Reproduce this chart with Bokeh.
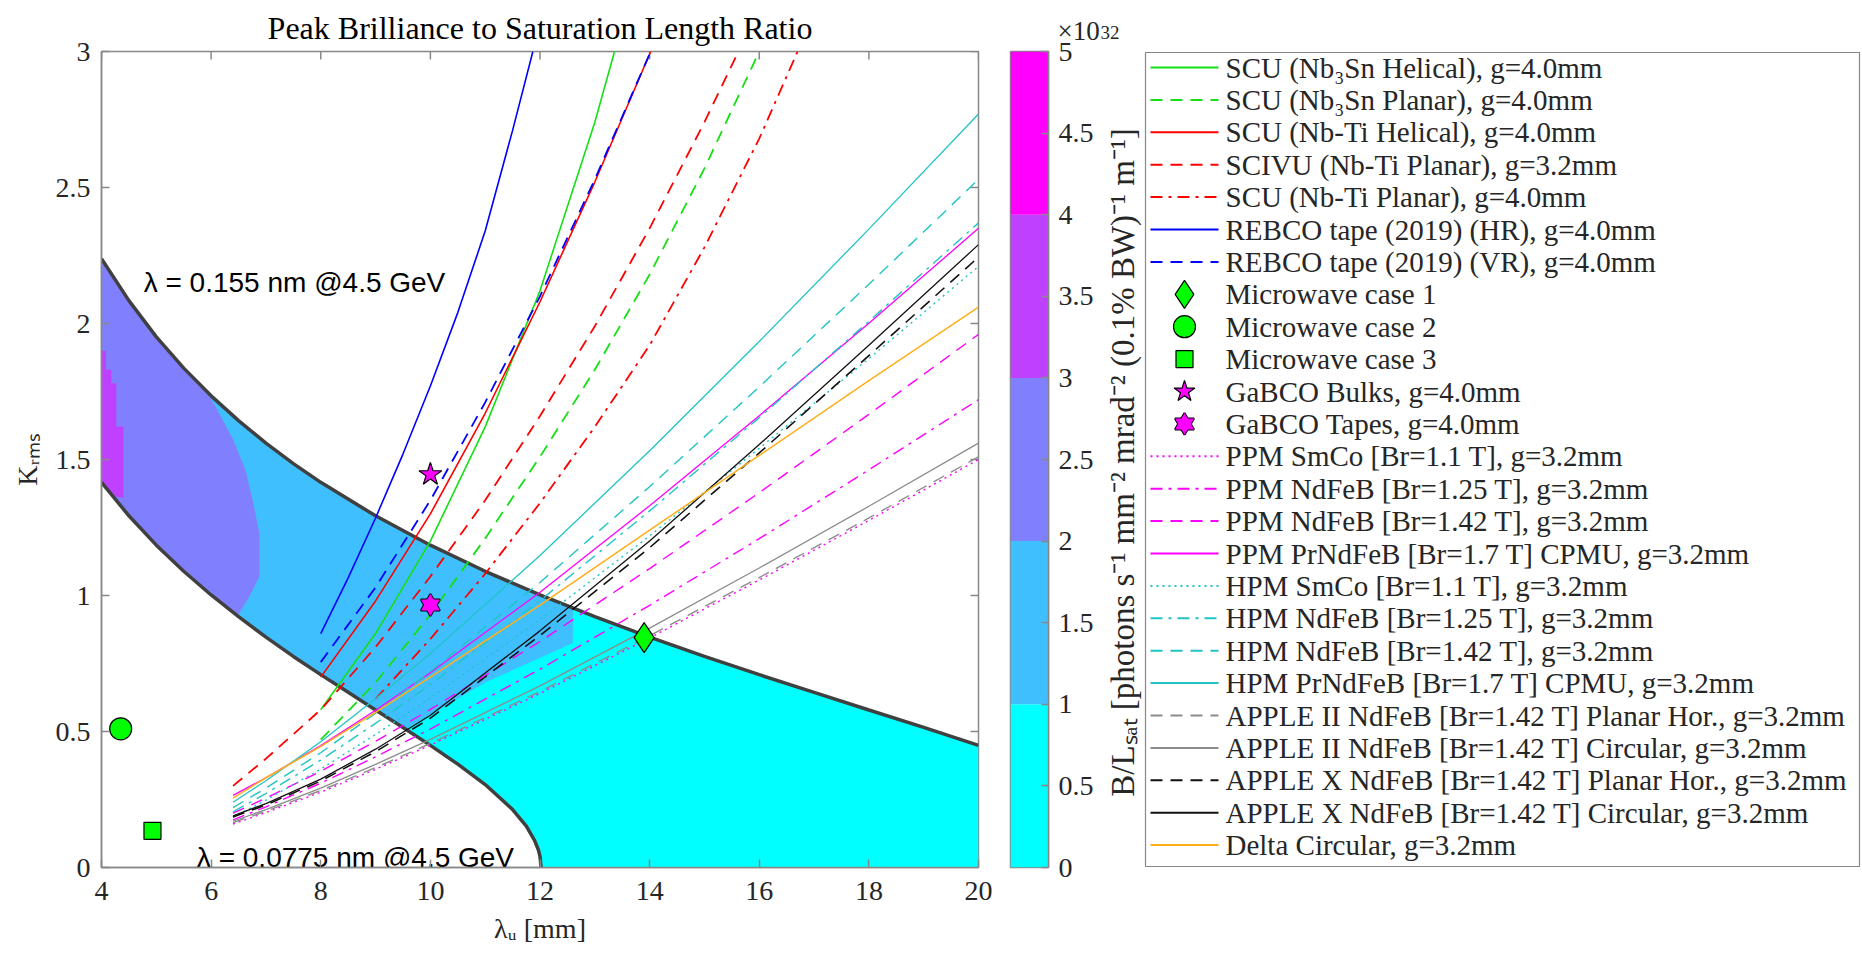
import math
from bokeh.plotting import figure
from bokeh.models import Range1d, FixedTicker
from bokeh.layouts import row
from bokeh.embed import file_html
from bokeh.resources import INLINE
from bokeh.core.properties import value

# ---------------- data ----------------
lam_u_upper = [4, 4.5, 5, 5.5, 6, 6.5, 7, 7.5, 8, 9, 10, 11, 12, 13, 14, 15, 16, 17, 18, 19, 20]
k_upper = [2.238, 2.084, 1.951, 1.836, 1.734, 1.643, 1.560, 1.485, 1.416, 1.293, 1.185, 1.089,
           1.002, 0.922, 0.847, 0.776, 0.709, 0.644, 0.579, 0.515, 0.449]
lam_u_lower = [4, 4.5, 5, 5.5, 6, 6.5, 7, 7.5, 8, 8.5, 9, 9.5, 10, 10.5, 11, 11.5, 11.75, 11.9, 11.97, 12.0, 12.02]
k_lower = [1.416, 1.293, 1.185, 1.089, 1.002, 0.922, 0.847, 0.776, 0.709, 0.644, 0.579, 0.515,
           0.449, 0.380, 0.305, 0.213, 0.152, 0.100, 0.065, 0.041, 0.0]

# boundaries between brilliance levels inside the band
b12_x = [12.6, 12.6, 11.0, 9.55]
b12_y = [0.953, 0.825, 0.68, 0.508]
b23_x = [5.93, 6.12, 6.41, 6.63, 6.77, 6.88, 6.88, 6.68, 6.48]
b23_y = [1.748, 1.68, 1.57, 1.46, 1.34, 1.23, 1.07, 0.99, 0.925]
b34_x = [4.0, 4.08, 4.08, 4.18, 4.18, 4.27, 4.27, 4.40, 4.40, 4.2, 4.0]
b34_y = [1.90, 1.90, 1.83, 1.83, 1.78, 1.78, 1.62, 1.62, 1.36, 1.365, 1.416]

level_edges = [0, 1, 2, 3, 4, 5]
level_colors = ["#00FFFF", "#40BFFF", "#8080FF", "#BF40FF", "#FF00FF"]
cb_ticks = [0, 0.5, 1, 1.5, 2, 2.5, 3, 3.5, 4, 4.5, 5]
cb_tick_labels = ["0", "0.5", "1", "1.5", "2", "2.5", "3", "3.5", "4", "4.5", "5"]

x_ticks = [4, 6, 8, 10, 12, 14, 16, 18, 20]
y_ticks = [0, 0.5, 1, 1.5, 2, 2.5, 3]
y_tick_labels = ["0", "0.5", "1", "1.5", "2", "2.5", "3"]

# superconducting undulators
scu_nb3sn_hel_x = [8, 9, 10, 11, 12, 13, 13.36]
scu_nb3sn_hel_k = [0.58, 0.86, 1.20, 1.62, 2.12, 2.74, 3.0]
scu_nb3sn_pl_x = [8, 9, 10, 11, 12, 13, 14, 15, 16]
scu_nb3sn_pl_k = [0.47, 0.68, 0.93, 1.21, 1.51, 1.83, 2.18, 2.57, 3.0]
scu_nbti_hel_x = [8, 9, 10, 11, 12, 13, 14.02]
scu_nbti_hel_k = [0.70, 0.98, 1.30, 1.67, 2.08, 2.52, 3.0]
scivu_x = [6.4, 7, 8, 9, 10, 11, 12, 13, 14, 15, 15.62]
scivu_k = [0.30, 0.40, 0.58, 0.81, 1.07, 1.35, 1.66, 1.99, 2.35, 2.74, 3.0]
scu_nbti_pl_x = [9, 10, 11, 12, 13, 14, 15, 16, 16.7]
scu_nbti_pl_k = [0.62, 0.84, 1.08, 1.34, 1.62, 1.92, 2.28, 2.68, 3.0]
rebco_hr_x = [8, 8.5, 9, 9.5, 10, 10.5, 11, 11.5, 11.87]
rebco_hr_k = [0.86, 1.065, 1.285, 1.52, 1.77, 2.04, 2.34, 2.71, 3.0]
rebco_vr_x = [8, 9, 10, 11, 12, 13, 14.02]
rebco_vr_k = [0.755, 1.03, 1.35, 1.71, 2.10, 2.53, 3.0]

# permanent magnet undulators (common period grid)
pm_x = [6.4, 7, 8, 9, 10, 12, 14, 16, 18, 20]
ppm_smco = [0.16, 0.202, 0.277, 0.361, 0.450, 0.640, 0.844, 1.057, 1.276, 1.50]
ppm_ndfeb125 = [0.175, 0.223, 0.310, 0.407, 0.509, 0.729, 0.964, 1.209, 1.462, 1.72]
ppm_ndfeb142 = [0.20, 0.255, 0.354, 0.464, 0.581, 0.831, 1.099, 1.378, 1.666, 1.96]
ppm_prndfeb = [0.265, 0.330, 0.448, 0.578, 0.716, 1.012, 1.330, 1.661, 2.001, 2.35]
hpm_smco = [0.185, 0.248, 0.362, 0.489, 0.623, 0.911, 1.219, 1.541, 1.871, 2.21]
hpm_ndfeb125 = [0.205, 0.272, 0.395, 0.530, 0.673, 0.981, 1.311, 1.654, 2.008, 2.37]
hpm_ndfeb142 = [0.22, 0.292, 0.422, 0.567, 0.720, 1.048, 1.400, 1.767, 2.144, 2.53]
hpm_prndfeb = [0.24, 0.319, 0.462, 0.620, 0.787, 1.147, 1.532, 1.934, 2.347, 2.77]
apple2_planar = [0.165, 0.207, 0.283, 0.367, 0.456, 0.647, 0.852, 1.066, 1.285, 1.51]
apple2_circ = [0.17, 0.213, 0.292, 0.379, 0.471, 0.668, 0.880, 1.101, 1.328, 1.56]
applex_planar = [0.186, 0.23, 0.318, 0.426, 0.549, 0.853, 1.176, 1.524, 1.882, 2.244]
applex_circ = [0.19, 0.235, 0.325, 0.435, 0.56, 0.87, 1.20, 1.555, 1.92, 2.29]
delta_circ = [0.255, 0.33, 0.445, 0.57, 0.70, 0.965, 1.24, 1.515, 1.79, 2.06]

# single design points
mw1_x, mw1_k = [13.9], [0.845]
mw2_x, mw2_k = [4.35], [0.51]
mw3_x, mw3_k = [4.93], [0.135]
gabco_bulk_x, gabco_bulk_k = [10.0], [1.445]
gabco_tape_x, gabco_tape_k = [10.0], [0.965]

# ---------------- styles ----------------
GREEN = "#14E014"
RED = "#FF0000"
BLUE = "#0000FF"
MAG = "#FF00FF"
CYAN = "#20C4C4"
GRAY = "#8C8C8C"
BLACK = "#111111"
ORANGE = "#FFAE1A"
DASH = "12 8"
DASHDOT = "12 6 3 6"
DOT = "2 4"
SERIF = "Liberation Serif"
AX = "#888888"
TXT = "#262626"

lines = [
    ("SCU (Nb₃Sn Helical), g=4.0mm", scu_nb3sn_hel_x, scu_nb3sn_hel_k, GREEN, "solid", 1.6),
    ("SCU (Nb₃Sn Planar), g=4.0mm", scu_nb3sn_pl_x, scu_nb3sn_pl_k, GREEN, DASH, 1.8),
    ("SCU (Nb-Ti Helical), g=4.0mm", scu_nbti_hel_x, scu_nbti_hel_k, RED, "solid", 1.6),
    ("SCIVU (Nb-Ti Planar), g=3.2mm", scivu_x, scivu_k, RED, DASH, 1.8),
    ("SCU (Nb-Ti Planar), g=4.0mm", scu_nbti_pl_x, scu_nbti_pl_k, RED, DASHDOT, 1.8),
    ("REBCO tape (2019) (HR), g=4.0mm", rebco_hr_x, rebco_hr_k, BLUE, "solid", 1.6),
    ("REBCO tape (2019) (VR), g=4.0mm", rebco_vr_x, rebco_vr_k, BLUE, DASH, 1.8),
]
markers = [
    ("Microwave case 1", "diamond"),
    ("Microwave case 2", "circle"),
    ("Microwave case 3", "square"),
    ("GaBCO Bulks, g=4.0mm", "star"),
    ("GaBCO Tapes, g=4.0mm", "hexagram"),
]
pm_lines = [
    ("PPM SmCo [Br=1.1 T], g=3.2mm", ppm_smco, MAG, DOT, 1.4),
    ("PPM NdFeB [Br=1.25 T], g=3.2mm", ppm_ndfeb125, MAG, DASHDOT, 1.4),
    ("PPM NdFeB [Br=1.42 T], g=3.2mm", ppm_ndfeb142, MAG, DASH, 1.4),
    ("PPM PrNdFeB [Br=1.7 T] CPMU, g=3.2mm", ppm_prndfeb, MAG, "solid", 1.3),
    ("HPM SmCo [Br=1.1 T], g=3.2mm", hpm_smco, CYAN, DOT, 1.4),
    ("HPM NdFeB [Br=1.25 T], g=3.2mm", hpm_ndfeb125, CYAN, DASHDOT, 1.4),
    ("HPM NdFeB [Br=1.42 T], g=3.2mm", hpm_ndfeb142, CYAN, DASH, 1.4),
    ("HPM PrNdFeB [Br=1.7 T] CPMU, g=3.2mm", hpm_prndfeb, CYAN, "solid", 1.3),
    ("APPLE II NdFeB [Br=1.42 T] Planar Hor., g=3.2mm", apple2_planar, GRAY, DASH, 1.4),
    ("APPLE II NdFeB [Br=1.42 T] Circular, g=3.2mm", apple2_circ, GRAY, "solid", 1.3),
    ("APPLE X NdFeB [Br=1.42 T] Planar Hor., g=3.2mm", applex_planar, BLACK, DASH, 1.6),
    ("APPLE X NdFeB [Br=1.42 T] Circular, g=3.2mm", applex_circ, BLACK, "solid", 1.3),
    ("Delta Circular, g=3.2mm", delta_circ, ORANGE, "solid", 1.5),
]

TOP, BOTTOM = 51, 86          # borders shared by all panels (frames get aligned)
FRAME_H = 953 - TOP - BOTTOM  # 816

# ---------------- main plot ----------------
p = figure(width=1000, height=953, x_range=Range1d(4, 20), y_range=Range1d(0, 3),
           output_backend="svg", toolbar_location=None,
           min_border_left=101, min_border_right=22, min_border_top=TOP, min_border_bottom=BOTTOM,
           title="Peak Brilliance to Saturation Length Ratio")
p.title.align = "center"
p.title.text_font = SERIF
p.title.text_font_size = "32px"
p.title.text_font_style = "normal"
p.title.text_color = "#000000"
p.title.standoff = 12
p.grid.visible = False
p.outline_line_color = AX
p.outline_line_width = 1.5
p.background_fill_color = "white"

for ax in (p.xaxis[0], p.yaxis[0]):
    ax.major_tick_in = 8
    ax.major_tick_out = 0
    ax.minor_tick_line_color = None
    ax.axis_line_color = AX
    ax.axis_line_width = 1.5
    ax.major_tick_line_color = AX
    ax.major_tick_line_width = 1.5
    ax.major_label_text_font = SERIF
    ax.major_label_text_color = TXT
    ax.major_label_text_font_size = "28px"
    ax.axis_label_text_font = SERIF
    ax.axis_label_text_font_size = "28px"
    ax.axis_label_text_font_style = "normal"
    ax.axis_label_text_color = TXT
p.xaxis.ticker = FixedTicker(ticks=x_ticks)
p.yaxis.ticker = FixedTicker(ticks=y_ticks)
p.yaxis.major_label_overrides = {t: l for t, l in zip(y_ticks, y_tick_labels)}
p.xaxis.major_label_overrides = {t: str(t) for t in x_ticks}
p.xaxis.major_label_standoff = 14
p.yaxis.major_label_standoff = 11
p.xaxis.axis_label = "λᵤ [mm]"
p.yaxis.axis_label = "Kᵣₘₛ"
p.xaxis.axis_label_standoff = 10
p.yaxis.axis_label_standoff = 10

# box ticks on the top and right edges (8 px long, inward)
tick_len_y = 8 * 3.0 / FRAME_H
tick_len_x = 8 * 16.0 / 877
p.segment(x0=x_ticks, x1=x_ticks, y0=[3] * len(x_ticks), y1=[3 - tick_len_y] * len(x_ticks),
          line_color=AX, line_width=1.5)
p.segment(x0=[20] * len(y_ticks), x1=[20 - tick_len_x] * len(y_ticks), y0=y_ticks, y1=y_ticks,
          line_color=AX, line_width=1.5)

# coloured band (layered from lowest level up)
band_x = lam_u_upper + [20] + lam_u_lower[::-1]
band_y = k_upper + [0] + k_lower[::-1]
p.patch(band_x, band_y, fill_color=level_colors[0], line_color=None)

up12 = [(x, y) for x, y in zip(lam_u_upper, k_upper) if x < b12_x[0]]
lo12 = [(x, y) for x, y in zip(lam_u_lower, k_lower) if x < b12_x[-1]]
p.patch([a for a, _ in up12] + b12_x + [a for a, _ in lo12][::-1],
        [b for _, b in up12] + b12_y + [b for _, b in lo12][::-1],
        fill_color=level_colors[1], line_color=None)

up23 = [(x, y) for x, y in zip(lam_u_upper, k_upper) if x < b23_x[0]]
lo23 = [(x, y) for x, y in zip(lam_u_lower, k_lower) if x < b23_x[-1]]
p.patch([a for a, _ in up23] + b23_x + [a for a, _ in lo23][::-1],
        [b for _, b in up23] + b23_y + [b for _, b in lo23][::-1],
        fill_color=level_colors[2], line_color=None)

p.patch(b34_x, b34_y, fill_color=level_colors[3], line_color=None)

# resonance boundaries
p.line(lam_u_upper, k_upper, line_color="#404040", line_width=3.5)
p.line(lam_u_lower, k_lower, line_color="#404040", line_width=3.5)

for lab, xs, ys, col, dash, lw in lines:
    p.line(xs, ys, line_color=col, line_dash=dash, line_width=lw)
for lab, ys, col, dash, lw in pm_lines:
    p.line(pm_x, ys, line_color=col, line_dash=dash, line_width=lw)

# design points
p.scatter(mw1_x, mw1_k, marker="diamond", size=30, fill_color="#00FF00", line_color="black", line_width=1.2)
p.scatter(mw2_x, mw2_k, marker="circle", size=22, fill_color="#00FF00", line_color="black", line_width=1.2)
p.scatter(mw3_x, mw3_k, marker="square", size=17, fill_color="#00FF00", line_color="black", line_width=1.2)
p.scatter(gabco_bulk_x, gabco_bulk_k, marker="star", size=24, fill_color=MAG, line_color="black", line_width=1.2)
for mk in ("triangle", "inverted_triangle"):
    p.scatter(gabco_tape_x, gabco_tape_k, marker=mk, size=19, fill_color=MAG, line_color="black", line_width=2)
for mk in ("triangle", "inverted_triangle"):
    p.scatter(gabco_tape_x, gabco_tape_k, marker=mk, size=19, fill_color=MAG, line_color=None)

p.text(x=[4.77], y=[2.15], text=["λ = 0.155 nm @4.5 GeV"], text_font=value("Liberation Sans"),
       text_font_size="28px", text_baseline="alphabetic", text_align="left", text_color="#000000")
p.text(x=[5.74], y=[0.035], text=["λ = 0.0775 nm @4.5 GeV"], text_font=value("Liberation Sans"),
       text_font_size="28px", text_baseline="alphabetic", text_align="left", text_color="#000000")

# ---------------- colour bar panel ----------------
cb = figure(width=100, height=953, x_range=Range1d(0, 1), y_range=Range1d(level_edges[0], level_edges[-1]),
            output_backend="svg", toolbar_location=None,
            min_border_left=10, min_border_right=52, min_border_top=TOP, min_border_bottom=BOTTOM,
            x_axis_location=None, y_axis_location="right", title="×10")
cb.title.align = "left"
cb.title.offset = 47
cb.title.text_font = SERIF
cb.title.text_font_size = "27px"
cb.title.text_font_style = "normal"
cb.title.text_color = TXT
cb.title.standoff = 12
cb.grid.visible = False
cb.outline_line_color = AX
cb.outline_line_width = 1.5
cb.quad(left=0, right=1, bottom=level_edges[:-1], top=level_edges[1:],
        fill_color=level_colors, line_color=None)
cax = cb.yaxis[0]
cax.ticker = FixedTicker(ticks=cb_ticks)
cax.major_label_overrides = {t: l for t, l in zip(cb_ticks, cb_tick_labels)}
cax.major_tick_in = 7
cax.major_tick_out = 0
cax.minor_tick_line_color = None
cax.axis_line_color = AX
cax.axis_line_width = 1.5
cax.major_tick_line_color = AX
cax.major_tick_line_width = 1.5
cax.major_label_text_font = SERIF
cax.major_label_text_font_size = "28px"
cax.major_label_text_color = TXT
cax.major_label_standoff = 10

# ---------------- legend panel (pixel coordinates) ----------------
s = figure(width=762, height=953, x_range=Range1d(1100, 1862), y_range=Range1d(953 - BOTTOM, TOP),
           output_backend="svg", toolbar_location=None,
           min_border_left=0, min_border_right=0, min_border_top=TOP, min_border_bottom=BOTTOM,
           x_axis_location=None, y_axis_location=None, title="32")
s.title.align = "left"
s.title.offset = 0
s.title.text_font = SERIF
s.title.text_font_size = "19px"
s.title.text_font_style = "normal"
s.title.text_color = TXT
s.title.standoff = 25
s.grid.visible = False
s.outline_line_color = None

s.text(x=[1122], y=[462], text=["B/Lₛₐₜ [photons s⁻¹ mm⁻² mrad⁻² (0.1% BW)⁻¹ m⁻¹]"],
       angle=math.pi / 2, text_font=value(SERIF), text_font_size="33px", text_color=TXT,
       text_baseline="middle", text_align="center")

LG_L, LG_R, LG_T, LG_B = 1145, 1859, 52, 866
s.quad(left=LG_L, right=LG_R, top=LG_T, bottom=LG_B, fill_color="white", line_color=AX, line_width=1.2)
row0, row_h = 67.0, 32.4
gx0, gx1, gxc, tx = 1150, 1218, 1184, 1225
labels = []
i = 0
for lab, xs, ys, col, dash, lw in lines:
    y = row0 + i * row_h
    s.segment(x0=[gx0], x1=[gx1], y0=[y], y1=[y], line_color=col, line_dash=dash, line_width=2)
    labels.append((y, lab))
    i += 1
for lab, mk in markers:
    y = row0 + i * row_h
    if mk == "diamond":
        s.scatter([gxc], [y], marker="diamond", size=28, fill_color="#00FF00", line_color="black", line_width=1.2)
    elif mk == "circle":
        s.scatter([gxc], [y], marker="circle", size=22, fill_color="#00FF00", line_color="black", line_width=1.2)
    elif mk == "square":
        s.scatter([gxc], [y], marker="square", size=17, fill_color="#00FF00", line_color="black", line_width=1.2)
    elif mk == "star":
        s.scatter([gxc], [y], marker="star", size=22, fill_color=MAG, line_color="black", line_width=1.2)
    else:
        for m2 in ("triangle", "inverted_triangle"):
            s.scatter([gxc], [y], marker=m2, size=19, fill_color=MAG, line_color="black", line_width=2)
        for m2 in ("triangle", "inverted_triangle"):
            s.scatter([gxc], [y], marker=m2, size=19, fill_color=MAG, line_color=None)
    labels.append((y, lab))
    i += 1
for lab, ys, col, dash, lw in pm_lines:
    y = row0 + i * row_h
    s.segment(x0=[gx0], x1=[gx1], y0=[y], y1=[y], line_color=col, line_dash=dash, line_width=2)
    labels.append((y, lab))
    i += 1
s.text(x=[tx] * len(labels), y=[a for a, _ in labels], text=[b for _, b in labels],
       text_font=value(SERIF), text_font_size="29px", text_color=TXT,
       text_baseline="middle", text_align="left")

layout = row(p, cb, s)
open("out.html", "w").write(file_html(layout, INLINE))
